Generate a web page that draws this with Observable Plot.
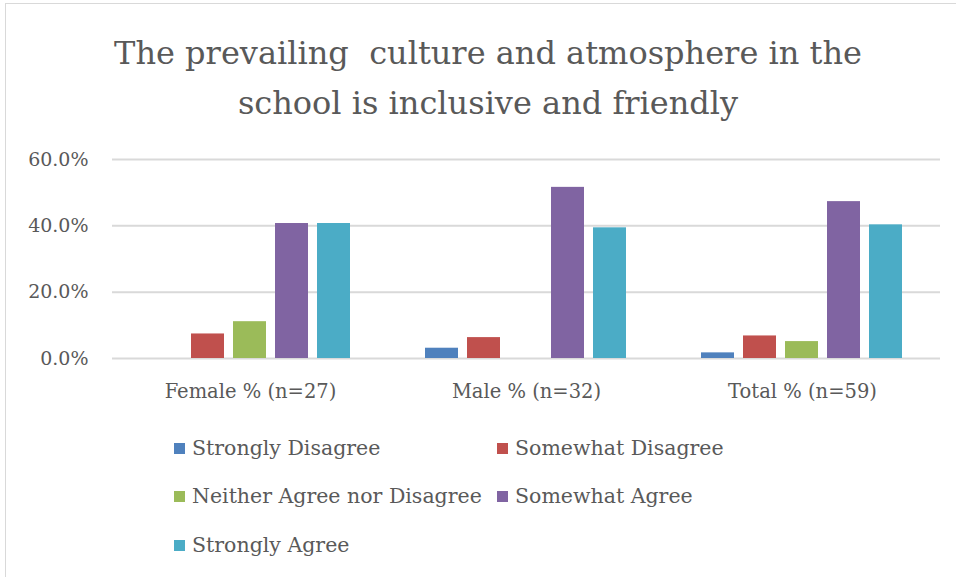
<!DOCTYPE html>
<html>
<head>
<meta charset="utf-8">
<script src="https://cdn.jsdelivr.net/npm/d3@7"></script>
<script src="https://cdn.jsdelivr.net/npm/@observablehq/plot@0.6"></script>
<style>
  html, body { margin: 0; padding: 0; background: #fff; }
  #frame {
    position: relative; width: 956px; height: 577px; overflow: hidden;
    font-family: "Palatino Linotype", "Book Antiqua", Palatino, "DejaVu Serif", serif;
    color: #595959;
  }
  #border {
    position: absolute; left: 5px; top: 3px; width: 970px; height: 600px;
    border: 1.5px solid #d9d9d9; box-sizing: border-box;
  }
  #title {
    position: absolute; left: 0; top: 28px; width: 976px; text-align: center;
    font-size: 32px; line-height: 50px;
  }
  #plot { position: absolute; left: 0; top: 140px; }
  #legend { position: absolute; left: 0; top: 0; width: 956px; height: 577px; pointer-events: none; }
  .item { position: absolute; display: flex; align-items: center; font-size: 20.5px; white-space: nowrap; }
  .swatch { width: 11px; height: 11px; margin-right: 7px; }
</style>
</head>
<body>
<div id="frame">
  <div id="border"></div>
  <div id="title">The prevailing&nbsp; culture and atmosphere in the<br>school is inclusive and friendly</div>
  <div id="plot"></div>
  <div id="legend"></div>
</div>
<script>
// Respondent groups (x facets)
const groups = ["Female % (n=27)", "Male % (n=32)", "Total % (n=59)"];

// Response categories, in legend / bar order
const series = [
  "Strongly Disagree",
  "Somewhat Disagree",
  "Neither Agree nor Disagree",
  "Somewhat Agree",
  "Strongly Agree"
];
const colors = ["#4F81BD", "#C0504D", "#9BBB59", "#8064A2", "#4BACC6"];

// Percent of respondents per group, one array per response category
const stronglyDisagree = [0.0, 3.1, 1.7];
const somewhatDisagree = [7.4, 6.3, 6.8];
const neitherAgree     = [11.1, 0.0, 5.1];
const somewhatAgree    = [40.7, 51.6, 47.3];
const stronglyAgree    = [40.7, 39.4, 40.3];

const yTicks = [0, 20, 40, 60];

const valuesBySeries = [stronglyDisagree, somewhatDisagree, neitherAgree, somewhatAgree, stronglyAgree];
const rows = [];
groups.forEach((g, gi) => {
  series.forEach((s, si) => rows.push({group: g, series: s, value: valuesBySeries[si][gi]}));
});

const fontFamily = getComputedStyle(document.getElementById("frame")).fontFamily;

const chart = Plot.plot({
  width: 956,
  height: 280,
  marginTop: 19,
  marginBottom: 62,
  marginLeft: 111,
  marginRight: 16,
  style: {fontFamily, fontSize: "19px", color: "#595959", background: "transparent", overflow: "visible"},
  fx: {domain: groups, padding: 0, label: null},
  x: {domain: series, paddingInner: 0.21, paddingOuter: 0.87, axis: null},
  y: {domain: [0, 60], label: null},
  color: {domain: series, range: colors},
  marks: [
    Plot.gridY(yTicks, {stroke: "#d9d9d9", strokeOpacity: 1, strokeWidth: 2, facetAnchor: null}),
    Plot.axisY(yTicks, {
      tickSize: 0, tickPadding: 24, label: null,
      tickFormat: d => d.toFixed(1) + "%", fontSize: 19
    }),
    Plot.axisFx({anchor: "bottom", tickSize: 0, tickPadding: 26, label: null, fontSize: 19.5}),
    Plot.barY(rows, {fx: "group", x: "series", y: "value", fill: "series"})
  ]
});
document.getElementById("plot").appendChild(chart);

// Two-column legend below the plot
const legend = document.getElementById("legend");
const colX = [174, 497];
const rowY = [448, 496, 545];
series.forEach((s, i) => {
  const item = document.createElement("div");
  item.className = "item";
  item.style.left = colX[i % 2] + "px";
  item.style.top = (rowY[Math.floor(i / 2)] - 14) + "px";
  item.style.height = "28px";
  const sw = document.createElement("span");
  sw.className = "swatch";
  sw.style.background = colors[i];
  const label = document.createElement("span");
  label.textContent = s;
  item.appendChild(sw);
  item.appendChild(label);
  legend.appendChild(item);
});
</script>
</body>
</html>
